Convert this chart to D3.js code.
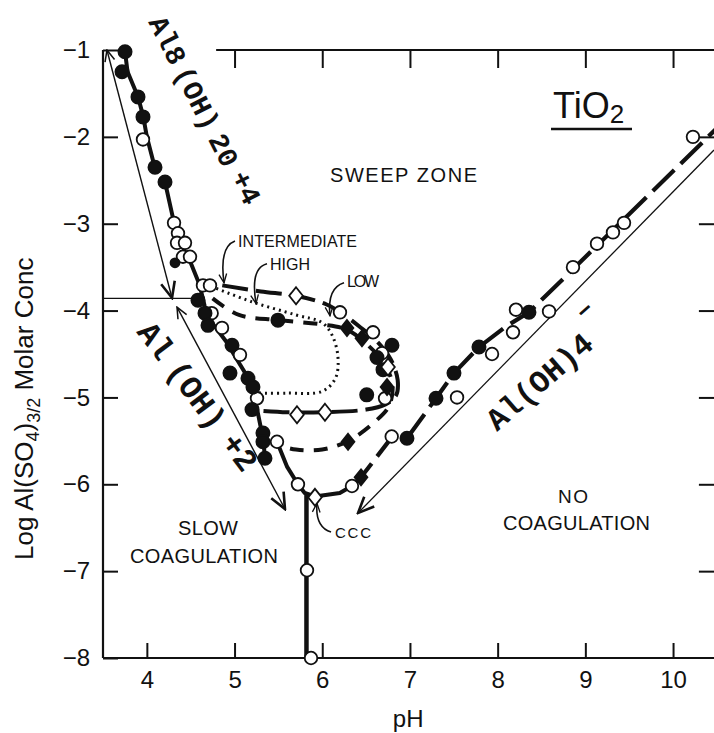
<!DOCTYPE html>
<html>
<head>
<meta charset="utf-8">
<script src="https://cdn.jsdelivr.net/npm/d3@7"></script>
<style>
  body { margin: 0; background: #fff; }
  svg { display: block; }
  text { fill: #111; }
</style>
</head>
<body>
<svg id="chart" width="714" height="733"></svg>
<script>
// ---- axis ticks ----
const phTicks = [4, 5, 6, 7, 8, 9, 10];
const phTopTicks = [5, 6, 7, 8, 9, 10];
const logTicks = [-1, -2, -3, -4, -5, -6, -7, -8];
const logRightTicks = [-2, -3, -4, -5, -6, -7];

// ---- measured points [pH, log Al2(SO4)3 molar conc] ----
const filledCircles = [
  [3.751, -1.02], [3.717, -1.25], [3.899, -1.54], [3.956, -1.77], [4.093, -2.35],
  [4.207, -2.52], [4.583, -3.88], [4.663, -4.03], [4.697, -4.17], [4.971, -4.40],
  [4.948, -4.72], [5.153, -4.78], [5.210, -4.88], [5.199, -5.14], [5.324, -5.41],
  [5.324, -5.51], [5.347, -5.70], [5.495, -4.11], [6.507, -4.97], [6.795, -4.40],
  [6.624, -4.54], [6.693, -4.68], [6.966, -5.47], [7.297, -5.01], [7.502, -4.72],
  [7.787, -4.42], [8.357, -4.02]
];
const smallFilledCircles = [[4.321, -3.45]];
const openCircles = [
  [3.956, -2.03], [4.310, -2.99], [4.355, -3.11], [4.344, -3.22], [4.435, -3.22],
  [4.412, -3.38], [4.492, -3.38], [4.640, -3.71], [4.720, -3.71], [4.739, -4.03],
  [4.857, -4.20], [5.062, -4.51], [5.256, -5.01], [5.484, -5.51], [5.723, -6.00],
  [6.339, -6.02], [6.792, -5.45], [6.202, -4.02], [6.579, -4.25], [6.682, -4.49],
  [6.716, -5.01], [7.537, -5.00], [7.936, -4.50], [8.175, -4.25], [8.209, -3.99],
  [8.586, -4.01], [8.859, -3.50], [9.133, -3.23], [9.315, -3.10], [9.441, -2.99],
  [10.227, -2.00], [5.826, -6.99], [5.872, -8.00]
];
const openDiamonds = [[5.701, -3.83], [6.750, -4.65], [5.712, -5.20], [6.031, -5.17], [5.917, -6.15]];
const filledDiamonds = [[6.282, -4.20], [6.453, -4.32], [6.739, -4.88], [6.294, -5.51], [6.442, -5.92]];

// ---- fitted boundaries ----
const boundaryUpper = [
  [3.751, -1.02], [3.78, -1.25], [3.90, -1.54], [3.96, -1.77], [4.00, -2.00], [4.09, -2.35]
];
const boundaryMiddle = [
  [4.207, -2.52], [4.31, -2.99], [4.40, -3.25], [4.50, -3.45], [4.60, -3.70], [4.66, -3.95],
  [4.75, -4.15], [4.90, -4.35], [5.05, -4.60], [5.20, -4.85], [5.23, -5.00], [5.27, -5.20],
  [5.32, -5.45], [5.35, -5.70]
];
const boundaryLower = [
  [5.484, -5.51], [5.60, -5.80], [5.723, -6.00], [5.80, -6.10], [5.917, -6.14], [6.20, -6.10],
  [6.339, -6.02]
];
const cccStem = [[5.82, -6.10], [5.82, -8.00]];
const aluminateBranch = [
  [6.339, -6.02], [6.442, -5.92], [6.792, -5.46], [6.966, -5.47], [7.297, -5.01], [7.502, -4.72],
  [7.787, -4.42], [8.10, -4.18], [8.357, -4.02], [10.50, -1.90]
];
const loopIntermediate = [
  [4.86, -3.71], [5.30, -3.78], [5.70, -3.83], [6.05, -3.93], [6.22, -4.03], [6.42, -4.18],
  [6.62, -4.35], [6.78, -4.56], [6.86, -4.80], [6.84, -4.98], [6.72, -5.08], [6.50, -5.14],
  [6.00, -5.17], [5.60, -5.17], [5.26, -5.15]
];
const loopLow = [
  [4.75, -3.86], [5.05, -4.05], [5.50, -4.11], [6.00, -4.16], [6.28, -4.22], [6.50, -4.38],
  [6.70, -4.60], [6.80, -4.85], [6.76, -5.10], [6.60, -5.28], [6.30, -5.50], [6.00, -5.60],
  [5.70, -5.60], [5.50, -5.55]
];
const loopHigh = [
  [4.73, -3.72], [5.20, -3.90], [5.70, -4.05], [6.00, -4.14], [6.12, -4.30], [6.18, -4.55],
  [6.15, -4.78], [6.00, -4.93], [5.60, -4.95], [5.27, -4.95]
];

// ---- species lines (thin arrows) ----
const al8Line = [[3.545, -1.00], [4.287, -3.855]];
const al2Line = [[4.344, -3.96], [5.575, -6.285]];
const al4Line = [[10.467, -2.152], [6.408, -6.331]];
const guideLine = [[3.50, -3.86], [4.57, -3.86]];

// ---- leader curves: [start, control, end] ----
const leaderIntermediate = [[5.005, -3.20], [4.823, -3.27], [4.88, -3.68]];
const leaderHigh = [[5.37, -3.46], [5.176, -3.51], [5.245, -3.92]];
const leaderLow = [[6.248, -3.68], [6.054, -3.74], [6.088, -4.06]];
const leaderCcc = [[6.10, -6.55], [5.917, -6.49], [5.94, -6.22]];

// ---------------------------------------------------------------
const svg = d3.select("#chart");
const x = d3.scaleLinear().domain([3.5, 10.5]).range([103, 716.9]);
const y = d3.scaleLinear().domain([-8, -1]).range([658, 50]);
const ink = "#111";
const sansFont = "'Liberation Sans', Arial, sans-serif";
const monoFont = "'Liberation Mono', 'DejaVu Sans Mono', monospace";

const defs = svg.append("defs");
function arrowMarker(id, size, sw) {
  defs.append("marker")
    .attr("id", id)
    .attr("viewBox", "0 0 20 20")
    .attr("refX", 18).attr("refY", 10)
    .attr("markerWidth", size).attr("markerHeight", size)
    .attr("markerUnits", "userSpaceOnUse")
    .attr("orient", "auto-start-reverse")
    .append("path")
    .attr("d", "M2,3 L18,10 L2,17")
    .attr("fill", "none").attr("stroke", ink)
    .attr("stroke-width", sw);
}
arrowMarker("arrowThin", 14, 2.2);
arrowMarker("arrowBig", 20, 2.6);
arrowMarker("arrowLeader", 11, 2.4);

// ---- axes ----
const styleAxis = g => {
  g.select(".domain").remove();
  g.selectAll(".tick line").attr("stroke", ink).attr("stroke-width", 2);
  g.selectAll(".tick text").attr("font-family", sansFont).attr("font-size", 24).attr("fill", ink);
};
svg.append("g").attr("transform", `translate(${x(3.5)},0)`)
  .call(d3.axisLeft(y).tickValues(logTicks).tickSizeInner(-15).tickSizeOuter(0).tickPadding(13)
    .tickFormat(d => "\u2212" + Math.abs(d)))
  .call(styleAxis);
svg.append("g").attr("transform", `translate(0,${y(-8)})`)
  .call(d3.axisBottom(x).tickValues(phTicks).tickSizeInner(-15).tickSizeOuter(0).tickPadding(13)
    .tickFormat(d3.format("d")))
  .call(styleAxis);
svg.append("g").attr("transform", `translate(0,${y(-1)})`)
  .call(d3.axisTop(x).tickValues(phTopTicks).tickSizeInner(-18).tickSizeOuter(0).tickFormat(""))
  .call(styleAxis);
svg.append("g").attr("transform", `translate(${x(10.5) - 2},0)`)
  .call(d3.axisRight(y).tickValues(logRightTicks).tickSizeInner(-16).tickSizeOuter(0).tickFormat(""))
  .call(styleAxis);

// frame lines
const frame = svg.append("g").attr("stroke", ink).attr("stroke-width", 2.2).attr("fill", "none");
frame.append("line").attr("x1", x(3.5)).attr("y1", y(-1)).attr("x2", x(3.5)).attr("y2", y(-8));
frame.append("line").attr("x1", x(3.5)).attr("y1", y(-8)).attr("x2", x(10.5)).attr("y2", y(-8));
frame.append("line").attr("x1", x(4.79)).attr("y1", y(-1)).attr("x2", x(10.5)).attr("y2", y(-1));

// axis titles
svg.append("text")
  .attr("x", x(6.98)).attr("y", 727)
  .attr("text-anchor", "middle")
  .attr("font-family", sansFont).attr("font-size", 24)
  .text("pH");

const yTitle = svg.append("text")
  .attr("transform", "translate(33,560) rotate(-90)")
  .attr("font-family", sansFont).attr("font-size", 26);
yTitle.append("tspan").text("Log  Al(SO");
yTitle.append("tspan").attr("dy", 6).attr("font-size", 18).text("4");
yTitle.append("tspan").attr("dy", -6).text(")");
yTitle.append("tspan").attr("dy", 7).attr("font-size", 18).text("3/2");
yTitle.append("tspan").attr("dy", -7).text(" Molar Conc");

// ---- line generators ----
const lineLin = d3.line().x(d => x(d[0])).y(d => y(d[1]));
const lineSmooth = d3.line().x(d => x(d[0])).y(d => y(d[1])).curve(d3.curveCatmullRom.alpha(0.5));

// species lines
const thin = svg.append("g").attr("fill", "none").attr("stroke", ink);
thin.append("path").attr("d", lineLin(al8Line)).attr("stroke-width", 1.4)
  .attr("marker-start", "url(#arrowThin)").attr("marker-end", "url(#arrowBig)");
thin.append("path").attr("d", lineLin(al2Line)).attr("stroke-width", 1.4)
  .attr("marker-start", "url(#arrowThin)").attr("marker-end", "url(#arrowBig)");
thin.append("path").attr("d", lineLin(al4Line)).attr("stroke-width", 1.3)
  .attr("marker-end", "url(#arrowBig)");
thin.append("path").attr("d", lineLin(guideLine)).attr("stroke-width", 1.3);

// leader curves
const quad = p => `M${x(p[0][0])},${y(p[0][1])} Q${x(p[1][0])},${y(p[1][1])} ${x(p[2][0])},${y(p[2][1])}`;
[leaderIntermediate, leaderHigh, leaderLow, leaderCcc].forEach(p => {
  thin.append("path").attr("d", quad(p)).attr("stroke-width", 1.6)
    .attr("marker-end", "url(#arrowLeader)");
});

// heavy boundary lines
const heavy = svg.append("g").attr("fill", "none").attr("stroke", ink)
  .attr("stroke-linecap", "butt").attr("stroke-linejoin", "round");
heavy.append("path").attr("d", lineLin(boundaryUpper)).attr("stroke-width", 4);
heavy.append("path").attr("d", lineLin(boundaryMiddle)).attr("stroke-width", 4);
heavy.append("path").attr("d", lineLin(boundaryLower)).attr("stroke-width", 4);
heavy.append("path").attr("d", lineLin(cccStem)).attr("stroke-width", 4.5);
heavy.append("path").attr("d", lineLin(aluminateBranch)).attr("stroke-width", 4.2)
  .attr("stroke-dasharray", "30 9");
heavy.append("path").attr("d", lineSmooth(loopIntermediate)).attr("stroke-width", 4)
  .attr("stroke-dasharray", "26 8");
heavy.append("path").attr("d", lineSmooth(loopLow)).attr("stroke-width", 4)
  .attr("stroke-dasharray", "14 10");
heavy.append("path").attr("d", lineSmooth(loopHigh)).attr("stroke-width", 3)
  .attr("stroke-dasharray", "2 4");

// ---- markers ----
const marks = svg.append("g").attr("stroke", ink).attr("stroke-width", 1.8);
marks.selectAll("circle.open").data(openCircles).join("circle")
  .attr("class", "open").attr("cx", d => x(d[0])).attr("cy", d => y(d[1])).attr("r", 6.3)
  .attr("fill", "#fff");
marks.selectAll("circle.filled").data(filledCircles).join("circle")
  .attr("class", "filled").attr("cx", d => x(d[0])).attr("cy", d => y(d[1])).attr("r", 6.6)
  .attr("fill", ink);
marks.selectAll("circle.small").data(smallFilledCircles).join("circle")
  .attr("class", "small").attr("cx", d => x(d[0])).attr("cy", d => y(d[1])).attr("r", 4.5)
  .attr("fill", ink);
const diamond = (cx, cy, h) => `M${cx},${cy - h} L${cx + h * 0.8},${cy} L${cx},${cy + h} L${cx - h * 0.8},${cy} Z`;
marks.selectAll("path.od").data(openDiamonds).join("path")
  .attr("class", "od").attr("d", d => diamond(x(d[0]), y(d[1]), 8.5)).attr("fill", "#fff");
marks.selectAll("path.fd").data(filledDiamonds).join("path")
  .attr("class", "fd").attr("d", d => diamond(x(d[0]), y(d[1]), 8)).attr("fill", ink);

// ---- labels ----
function label(txt, px, py, size, len, anchor) {
  const t = svg.append("text").attr("x", px).attr("y", py)
    .attr("font-family", sansFont).attr("font-size", size).text(txt);
  if (len) t.attr("textLength", len).attr("lengthAdjust", "spacing");
  if (anchor) t.attr("text-anchor", anchor);
  return t;
}
label("SWEEP  ZONE", 330, 182, 20, 147);
label("INTERMEDIATE", 238, 247, 16, 119);
label("HIGH", 270, 270, 16, 40);
label("LOW", 347, 287, 16, 32);
label("SLOW", 178, 535, 20, 60);
label("COAGULATION", 130, 563, 20, 148);
label("NO", 558, 503, 19, 30);
label("COAGULATION", 503, 530, 20, 147);
label("CCC", 335, 538, 15, 36);

// sample
const tio = svg.append("text").attr("x", 553).attr("y", 118)
  .attr("font-family", sansFont).attr("font-size", 36);
tio.append("tspan").text("TiO");
tio.append("tspan").attr("dy", 5).attr("font-size", 26).text("2");
svg.append("line").attr("x1", 551).attr("x2", 632).attr("y1", 129).attr("y2", 129)
  .attr("stroke", ink).attr("stroke-width", 2.6);

// species names along their lines, built from word pieces with tight gaps
function rotLabel(pieces, px, py, angle, size) {
  const t = svg.append("text")
    .attr("transform", `translate(${px},${py}) rotate(${angle})`)
    .attr("font-family", monoFont).attr("font-size", size)
    .attr("font-weight", "bold");
  pieces.forEach(p => {
    t.append("tspan").attr("dx", p.gap || 0).attr("dy", p.dy || 0).text(p.t);
  });
  return t;
}
rotLabel([{ t: "Al8" }, { t: "(OH)", gap: 6 }, { t: "20", gap: 8 }, { t: "+4", gap: 10, dy: -3 }],
  148, 22, 63, 28);
rotLabel([{ t: "Al" }, { t: "(OH)", gap: 10 }, { t: "+2", gap: 14 }], 136, 332, 53, 32);
rotLabel([{ t: "Al(OH)4" }], 497, 432, -41, 31);
svg.append("text")
  .attr("transform", "translate(583,321) rotate(-41)")
  .attr("font-family", monoFont).attr("font-size", 28).attr("font-weight", "bold")
  .text("\u2013");
</script>
</body>
</html>
